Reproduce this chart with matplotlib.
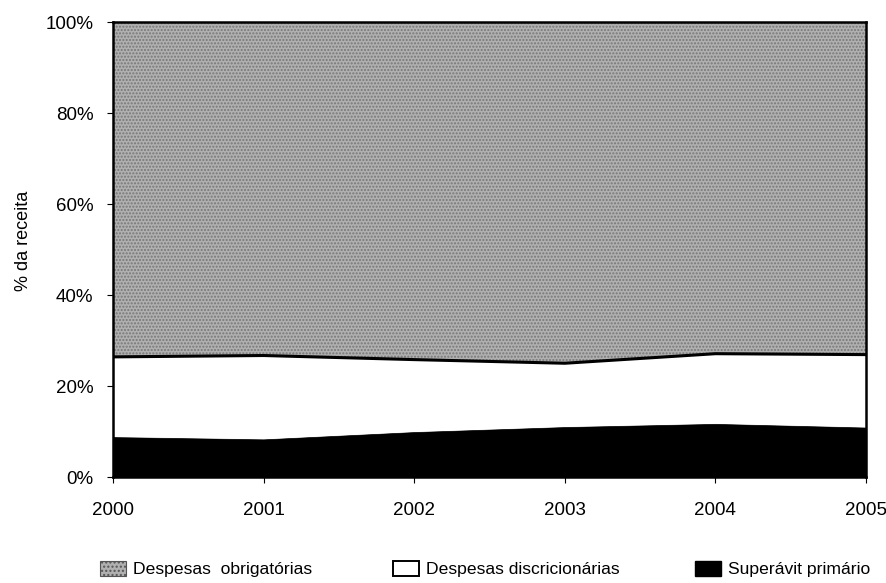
import matplotlib.pyplot as plt
import matplotlib.patches as mpatches
import numpy as np

plt.rcParams['font.family'] = ['Liberation Sans', 'DejaVu Sans']

anos = [2000, 2001, 2002, 2003, 2004, 2005]
superavit = [8.8, 8.3, 9.9, 11.0, 11.7, 10.9]
discricionarias = [17.6, 18.4, 15.9, 14.0, 15.4, 16.0]
obrigatorias = [73.6, 73.3, 74.2, 75.0, 72.9, 73.1]

legenda = ["Despesas  obrigatórias", "Despesas discricionárias", "Superávit primário"]
yticks = [0, 20, 40, 60, 80, 100]

cinza = '#b0b0b0'


def main():
	fig = plt.figure(figsize=(8.87, 5.83), dpi=100)
	ax = fig.add_axes([113 / 887, 1 - 477 / 583, 753 / 887, 455 / 583])

	base = np.zeros(len(anos))
	s = np.array(superavit)
	d = np.array(discricionarias)
	o = np.array(obrigatorias)

	ax.fill_between(anos, base, s, facecolor='black', edgecolor='black', lw=0.5)
	ax.fill_between(anos, s, s + d, facecolor='white', lw=0)
	ax.fill_between(anos, s + d, s + d + o, facecolor=cinza,
	                hatch='.....', edgecolor='#777777', lw=0)
	ax.plot(anos, s + d, color='black', lw=2.2)

	ax.set_xlim(2000, 2005)
	ax.set_ylim(0, 100)
	ax.set_xticks(anos)
	ax.set_xticklabels([str(a) for a in anos], fontsize=13.5)
	ax.set_yticks(yticks)
	ax.set_yticklabels([str(v) + "%" for v in yticks], fontsize=13.5)
	ax.tick_params(axis='x', direction='out', length=4, width=0.8, pad=14)
	ax.tick_params(axis='y', direction='out', length=4, width=0.8, pad=10)
	for sp in ax.spines.values():
		sp.set_linewidth(1.8)
	ax.set_ylabel("% da receita", fontsize=13)
	ax.yaxis.set_label_coords(-0.108, 0.52)

	handles = [
		mpatches.Patch(facecolor=cinza, hatch='....', edgecolor='#555555', lw=0.8),
		mpatches.Patch(facecolor='white', edgecolor='black', lw=1.4),
		mpatches.Patch(facecolor='black', edgecolor='black'),
	]
	xs = [100, 393, 695]
	for h, lab, x in zip(handles, legenda, xs):
		fig.legend([h], [lab], loc='center left', bbox_to_anchor=(x / 887, 1 - 569 / 583),
		           frameon=False, fontsize=12.6, borderpad=0, borderaxespad=0,
		           handlelength=1.5, handleheight=1.0, handletextpad=0.4)

	fig.savefig("out.png", dpi=100)


if __name__ == '__main__':
	main()
